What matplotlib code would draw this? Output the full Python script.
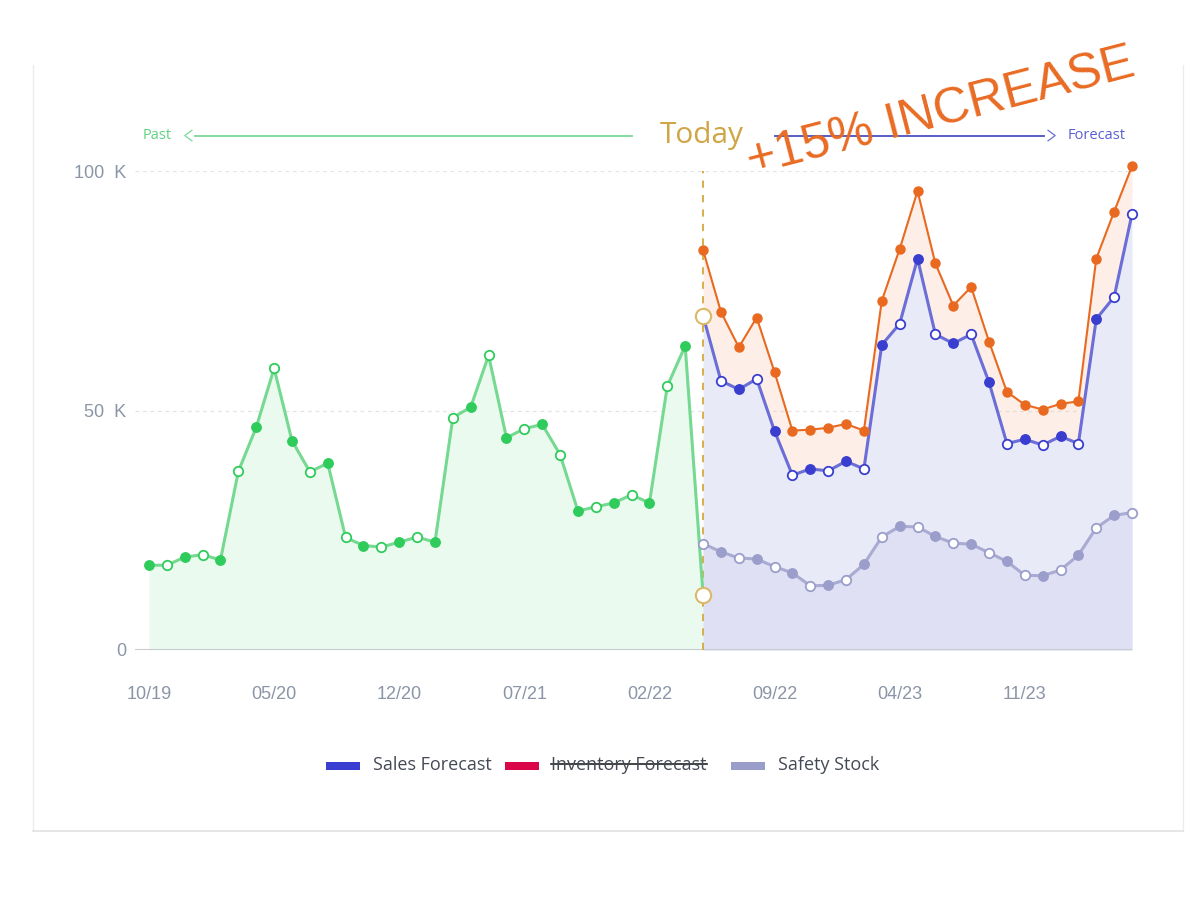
import numpy as np
import matplotlib
matplotlib.use('Agg')
import matplotlib.pyplot as plt
from matplotlib.lines import Line2D
from matplotlib.patches import Rectangle

plt.rcParams['font.family'] = ['Open Sans', 'DejaVu Sans']

# months, one point per month starting 10/19; "today" is index 31 (05/22)
tick_labels = ['10/19', '05/20', '12/20', '07/21', '02/22', '09/22', '04/23', '11/23']

past_sales = [17.7, 17.7, 19.4, 19.9, 18.8, 37.3, 46.5, 58.8, 43.7, 37.2, 39.0,
              23.5, 21.8, 21.5, 22.5, 23.6, 22.5, 48.5, 50.7, 61.5, 44.3, 46.2,
              47.1, 40.8, 29.0, 29.9, 30.7, 32.4, 30.7, 55.1, 63.5, 11.5]

sales_forecast = [69.8, 56.2, 54.4, 56.6, 45.7, 36.5, 37.8, 37.4, 39.4, 37.8,
                  63.7, 68.1, 81.7, 65.9, 64.0, 65.9, 55.9, 43.1, 44.0, 42.8,
                  44.6, 43.1, 69.1, 73.7, 91.0]

safety_stock = [22.2, 20.5, 19.2, 19.0, 17.4, 16.1, 13.4, 13.5, 14.7, 17.9,
                23.6, 25.8, 25.7, 23.7, 22.3, 22.1, 20.3, 18.5, 15.6, 15.5,
                16.7, 19.8, 25.5, 28.1, 28.7]

# the hand drawn "+15%" line
sketch_increase = [83.5, 70.6, 63.2, 69.4, 58.0, 45.8, 46.0, 46.4, 47.2, 45.8,
                   72.9, 83.7, 95.8, 80.7, 71.9, 75.8, 64.4, 53.9, 51.2, 50.2,
                   51.4, 51.9, 81.7, 91.5, 101.0]

today = len(past_sales) - 1
past_x = np.arange(len(past_sales))
future_x = np.arange(today, today + len(sales_forecast))

fig = plt.figure(figsize=(12, 9), dpi=100)
ax = fig.add_axes([134.7 / 1200, 1 - 650 / 900, (1132 - 134.7) / 1200, (650 - 171) / 900])
ax.set_xlim(-0.8, future_x[-1])
ax.set_ylim(0, 100)


def draw_series(x, y, line_color, dot_color, filled, hollow, lw=2.2):
    ax.plot(x, y, color=line_color, lw=lw, zorder=3, clip_on=False)
    ax.plot(x, y, ls='none', marker='o', ms=6.8, mfc=dot_color, mec=dot_color,
            markevery=filled, zorder=4, clip_on=False)
    ax.plot(x, y, ls='none', marker='o', ms=6.8, mfc='white', mec=dot_color, mew=1.3,
            markevery=hollow, zorder=4, clip_on=False)


# areas
ax.fill_between(past_x, past_sales, color='#ebfaef', lw=0, zorder=1)
ax.fill_between(future_x, sales_forecast, color='#e9eaf8', lw=0, zorder=1)
ax.fill_between(future_x, safety_stock, color='#dfe0f3', lw=0, zorder=1.1)
ax.fill_between(future_x, sales_forecast, sketch_increase, color='#f8c3a0', alpha=0.25, lw=0, zorder=1.2)

# grid + baseline
for v in [50, 100]:
    ax.axhline(v, color='#e2e4e8', lw=0.9, ls=(0, (3, 3)), zorder=0.5)
ax.axhline(0, color='#c8cbd2', lw=1.5, zorder=2)

# today marker line
ax.plot([today, today], [0, 100], color='#d6a83e', lw=1.3, ls=(0, (4, 4)), zorder=2.5)

n_f = len(sales_forecast)
draw_series(past_x, past_sales, '#76d991', '#2fcc5c',
            list(range(0, today, 2)), list(range(1, today, 2)))
draw_series(future_x, sales_forecast, '#6a6ed6', '#3a3ecf',
            list(range(2, n_f - 1, 2)), list(range(1, n_f - 1, 2)) + [n_f - 1])
draw_series(future_x, safety_stock, '#aaabd3', '#9b9dca',
            list(range(1, n_f, 2)), list(range(0, n_f, 2)))

# sketched +15% line
ax.plot(future_x, sketch_increase, color='#e8691f', lw=1.5, zorder=5, clip_on=False)
ax.plot(future_x, sketch_increase, ls='none', marker='o', ms=6.5, color='#e8691f', zorder=5, clip_on=False)

# today circles
for v in [sales_forecast[0], past_sales[-1]]:
    ax.plot([today], [v], marker='o', ms=11, mfc='white', mec='#dbb968', mew=1.5, zorder=6, clip_on=False)

# axes
for s in ax.spines.values():
    s.set_visible(False)
ax.set_yticks([0, 50, 100])
ax.set_yticklabels(['0', '50  K', '100  K'], fontfamily='Liberation Sans')
ax.set_xticks(np.arange(len(tick_labels)) * 7)
ax.set_xticklabels(tick_labels, fontfamily='Liberation Sans')
ax.tick_params(axis='both', length=0, colors='#8b95a6', labelsize=13)
ax.tick_params(axis='y', pad=6)
ax.tick_params(axis='x', pad=26)

# header: Past <---- Today ----> Forecast
hy = 107.4
ax.text(1.25, hy, 'Past', color='#5fd17f', fontsize=10.5, ha='right', va='center', clip_on=False)
ax.plot([2.55, 27.0], [hy, hy], color='#7ad89a', lw=1.3, clip_on=False)
ax.plot([2.4, 2.0, 2.4], [hy + 1.1, hy, hy - 1.1], color='#7ad89a', lw=0.9, clip_on=False)
ax.text(today - 0.1, hy, 'Today', color='#cfa545', fontsize=21.5, ha='center', va='center', clip_on=False)
ax.plot([35.0, 50.1], [hy, hy], color='#4a4fc0', lw=1.3, clip_on=False)
ax.plot([50.3, 50.7, 50.3], [hy + 1.1, hy, hy - 1.1], color='#6a6ed6', lw=0.9, clip_on=False)
ax.text(51.4, hy, 'Forecast', color='#5a5fd0', fontsize=10.5, ha='left', va='center', clip_on=False)

# handwritten annotation
ax.text(44.3, 112.3, '+15% INCREASE', color='#e96b24', fontsize=36, rotation=14.5,
        family='Liberation Sans', ha='center', va='center',
        rotation_mode='anchor', clip_on=False)

# legend (custom, middle entry struck through)
legend_items = [('Sales Forecast', '#3a3fd1', 326, 373),
                ('Inventory Forecast', '#d9064a', 505, 551),
                ('Safety Stock', '#9a9cc9', 731, 778)]
ly = 1 - 765 / 900
texts = []
for label, color, px, tx in legend_items:
    fig.add_artist(Rectangle((px / 1200, 1 - 770 / 900), 34 / 1200, 8 / 900,
                             transform=fig.transFigure, color=color, lw=0))
    texts.append(fig.text(tx / 1200, ly, label, fontsize=13, color='#444a55', ha='left', va='center'))

fig.canvas.draw()
bb = texts[1].get_window_extent().transformed(fig.transFigure.inverted())
ym = (bb.y0 + bb.y1) / 2 + 0.001
fig.add_artist(Line2D([bb.x0, bb.x1], [ym, ym], transform=fig.transFigure, color='#222222', lw=1.2))

# card outline
card = dict(transform=fig.transFigure, color='#ececec', lw=1)
fig.add_artist(Line2D([33 / 1200, 33 / 1200], [1 - 65 / 900, 1 - 831 / 900], **card))
fig.add_artist(Line2D([1183 / 1200, 1183 / 1200], [1 - 65 / 900, 1 - 831 / 900], **card))
fig.add_artist(Line2D([33 / 1200, 1183 / 1200], [1 - 831 / 900, 1 - 831 / 900],
                      transform=fig.transFigure, color='#e2e2e2', lw=1.2))

fig.savefig('out.png', dpi=100, facecolor='white')
